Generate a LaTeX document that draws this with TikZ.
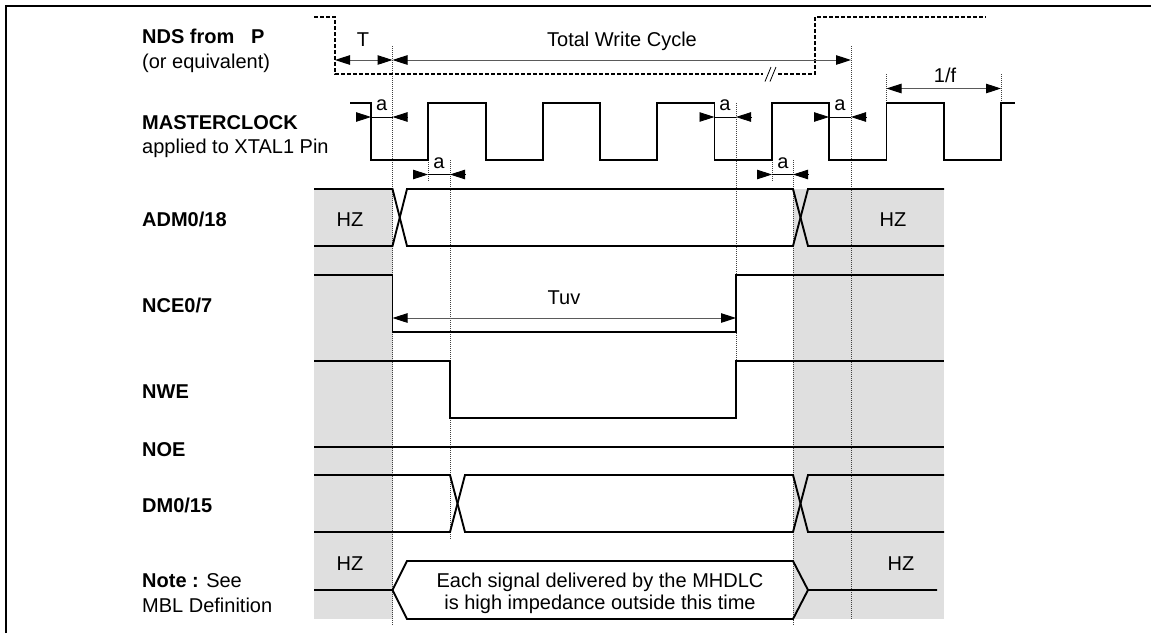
\documentclass[tikz,border=0pt]{standalone}
\usepackage{fontspec}
\setmainfont{Liberation Sans}
\usetikzlibrary{arrows.meta}
\definecolor{hzgrey}{RGB}{223,223,223}
\definecolor{dimgrey}{RGB}{90,90,90}
\tikzset{
  sig/.style={line width=1.9pt,black,line join=miter},
  dashsig/.style={line width=1.9pt,black,dash pattern=on 3.6pt off 2.4pt},
  guide/.style={line width=0.9pt,black!75,dash pattern=on 1pt off 1pt},
  dimline/.style={line width=1pt,dimgrey},
  head/.style={-{Triangle[length=15pt,width=9.5pt,black]}},
  dim/.style={dimline,{Triangle[length=15pt,width=9.5pt,black]}-{Triangle[length=15pt,width=9.5pt,black]}},
  lab/.style={anchor=base west,font=\fontsize{20}{23}\selectfont,inner sep=0pt},
  txt/.style={anchor=base,font=\fontsize{20}{23}\selectfont,inner sep=0pt},
}
\begin{document}
\begin{tikzpicture}[x=1pt,y=-1pt]
\useasboundingbox (0,0) rectangle (1151,633);
% frame
\draw[line width=2pt] (6,633) -- (6,6) -- (1151,6);
% grey
\fill[hzgrey] (314,189) rectangle (392.5,619);
\fill[hzgrey] (793,189) rectangle (944,619);
% guides
\coordinate (g1t) at (392.5,46); \coordinate (g1b) at (392.5,625);
\coordinate (g2t) at (450,160);  \coordinate (g2b) at (450,539);
\coordinate (g3t) at (736,103);  \coordinate (g3b) at (736,361);
\coordinate (g4t) at (793,160);  \coordinate (g4b) at (793,625);
\coordinate (g5t) at (851,46);   \coordinate (g5b) at (851,619);
\coordinate (g6t) at (428,160);  \coordinate (g6b) at (428,181);
\coordinate (g7t) at (772,160);  \coordinate (g7b) at (772,181);
\coordinate (g8t) at (886.5,74); \coordinate (g8b) at (886.5,103);
\coordinate (g9t) at (1001,74);  \coordinate (g9b) at (1001,103);
\foreach \g in {1,...,9} \draw[guide] (g\g t) -- (g\g b);
% NDS
\draw[dashsig] (314,17) -- (335,17) -- (335,74) -- (763,74);
\draw[dashsig] (778,74) -- (815,74) -- (815,17) -- (986,17);
\draw[line width=0.8pt] (765,81.5) -- (771,67) (770,81.5) -- (776,67);
% dimension T / total
\coordinate (t0) at (335,60); \coordinate (t1) at (392.5,60); \coordinate (t2) at (851,60);
\draw[dim] (t0) -- (t1);
\draw[dim] (t1) -- (t2);
\node[txt] (lt) at (363,46) {T};
\node[txt] (ltot) at (622,46) {Total Write Cycle};
% clock
\draw[sig] (350,103) -- (371,103) -- (371,160) -- (428,160) -- (428,103) -- (486,103) -- (486,160) -- (543,160) -- (543,103) -- (600,103) -- (600,160) -- (657,160) -- (657,103) -- (714.5,103) -- (714.5,160) -- (772,160) -- (772,103) -- (829,103) -- (829,160) -- (886.5,160) -- (886.5,103) -- (944,103) -- (944,160) -- (1001,160) -- (1001,103) -- (1015,103);
% a arrows
\foreach \xa/\xb/\yy in {371/392.5/117,714.5/736/117,829/851/117,428/450/174.5,772/793/174.5}{
  \draw[line width=0.8pt,black] (\xa,\yy) -- (\xb,\yy);
  \draw[line width=0.8pt,head] (\xa-15,\yy) -- (\xa,\yy);
  \draw[line width=0.8pt,head] (\xb+15,\yy) -- (\xb,\yy);
}
\foreach \n/\x/\y in {a1/381.7/110,a2/725/110,a3/840/110,a4/439/168,a5/783/168}
  \node[txt] (\n) at (\x,\y) {a};
% 1/f
\coordinate (f0) at (886.5,88.5); \coordinate (f1) at (1001,88.5);
\draw[dim] (f0) -- (f1);
\node[txt] (lf) at (945,82) {1/f};
% ADM
\draw[sig] (314,189) -- (392.5,189) -- (407,246) -- (793,246) -- (808,189) -- (944,189);
\draw[sig] (314,246) -- (392.5,246) -- (407,189) -- (793,189) -- (808,246) -- (944,246);
\node[txt] (hz1) at (350,226) {HZ};
\node[txt] (hz2) at (893,226) {HZ};
% NCE
\draw[sig] (314,275) -- (392.5,275) -- (392.5,332) -- (736,332) -- (736,275) -- (944,275);
\coordinate (u0) at (392.5,318); \coordinate (u1) at (736,318);
\draw[dim] (u0) -- (u1);
\node[txt] (ltuv) at (564,304) {Tuv};
% NWE
\draw[sig] (314,361) -- (450,361) -- (450,418) -- (736,418) -- (736,361) -- (944,361);
% NOE
\draw[sig] (314,447) -- (944,447);
% DM
\draw[sig] (314,475) -- (450,475) -- (465,532) -- (793,532) -- (808,475) -- (944,475);
\draw[sig] (314,532) -- (450,532) -- (465,475) -- (793,475) -- (808,532) -- (944,532);
% bottom
\draw[sig] (314,590) -- (392.5,590) -- (407,561) -- (793,561) -- (808,590) -- (937,590);
\draw[sig] (392.5,590) -- (407,619) -- (793,619) -- (808,590);
\node[txt] (hz3) at (350,570) {HZ};
\node[txt] (hz4) at (901,570) {HZ};
\node[txt] (each1) at (600,587) {Each signal delivered by the MHDLC};
\node[txt] (each2) at (600,609) {is high impedance outside this time};
% left labels
\node[lab] (l1) at (142,43) {\textbf{NDS from\ \ \ P}};
\node[lab] (l1b) at (142,68) {(or equivalent)};
\node[lab] (l2) at (142,129) {\textbf{MASTERCLOCK}};
\node[lab] (l2b) at (142,153) {applied to XTAL1 Pin};
\node[lab] (l3) at (142,226) {\textbf{ADM0/18}};
\node[lab] (l4) at (142,312) {\textbf{NCE0/7}};
\node[lab] (l5) at (142,398) {\textbf{NWE}};
\node[lab] (l6) at (142,456) {\textbf{NOE}};
\node[lab] (l7) at (142,512) {\textbf{DM0/15}};
\node[lab] (l8) at (142,587) {\textbf{Note :} See};
\node[lab] (l8b) at (142,612) {MBL Definition};
\end{tikzpicture}
\end{document}
